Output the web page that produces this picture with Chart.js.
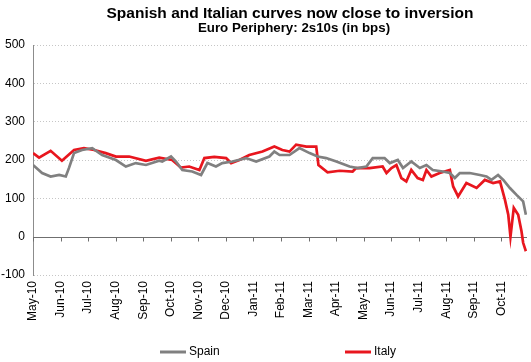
<!DOCTYPE html>
<html>
<head>
<meta charset="utf-8">
<script src="https://cdn.jsdelivr.net/npm/chart.js@4/dist/chart.umd.min.js"></script>
<style>
html,body{margin:0;padding:0;background:#fff;}
#wrap{width:531px;height:362px;position:relative;}
</style>
</head>
<body>
<div id="wrap"><canvas id="c" width="531" height="362"></canvas></div>
<script>
const titleText = 'Spanish and Italian curves now close to inversion';
const subtitleText = 'Euro Periphery: 2s10s (in bps)';
const monthLabels = ['May-10','Jun-10','Jul-10','Aug-10','Sep-10','Oct-10','Nov-10','Dec-10','Jan-11','Feb-11','Mar-11','Apr-11','May-11','Jun-11','Jul-11','Aug-11','Sep-11','Oct-11'];
const yTicks = [-100, 0, 100, 200, 300, 400, 500];

// x positions are in months since start of May-10
const spainX = [0.00,0.33,0.64,0.95,1.19,1.31,1.49,1.78,2.15,2.51,3.01,3.37,3.73,4.10,4.58,4.69,5.01,5.19,5.42,5.78,6.10,6.33,6.64,6.87,7.24,7.73,8.10,8.58,8.76,8.95,9.31,9.67,10.04,10.33,10.64,11.01,11.49,11.78,12.10,12.33,12.76,12.95,13.24,13.43,13.73,14.04,14.28,14.51,14.87,15.13,15.31,15.49,15.85,16.22,16.46,16.64,16.88,17.07,17.31,17.55,17.79,17.89];
const spainY = [187,166,157,161,157,180,218,226,231,213,200,183,192,187,198,196,209,196,174,170,161,192,183,192,196,205,196,209,222,213,213,231,218,209,205,196,183,179,183,205,205,192,200,179,196,179,187,174,170,166,153,166,166,161,157,148,161,148,127,109,92,57];

const italyX = [0.00,0.22,0.64,1.05,1.49,1.85,2.22,2.64,3.01,3.49,4.10,4.58,5.05,5.37,5.67,6.04,6.22,6.58,7.01,7.19,7.49,7.85,8.33,8.76,9.05,9.31,9.55,9.92,10.28,10.36,10.69,11.13,11.60,11.73,12.22,12.69,12.83,13.01,13.19,13.37,13.55,13.73,13.96,14.15,14.28,14.46,14.76,15.13,15.25,15.43,15.73,16.10,16.40,16.70,16.95,17.13,17.25,17.33,17.45,17.61,17.73,17.79,17.89];
const italyY = [218,206,224,198,226,231,226,218,209,209,198,206,200,180,183,174,205,208,205,192,200,213,222,235,226,222,240,235,235,187,168,172,170,179,179,183,166,179,187,153,144,174,153,148,174,157,166,174,131,105,140,127,148,140,144,96,57,0,75,57,14,-16,-38];

const toPts = (xs, ys) => xs.map((x, i) => ({x: x, y: ys[i]}));

const FONT = 'Arial, "Liberation Sans", sans-serif';

const decor = {
  id: 'decor',
  beforeDatasetsDraw(chart) {
    const {ctx, chartArea, scales} = chart;
    const x = scales.x, y = scales.y;
    const y0 = Math.round(y.getPixelForValue(0)) + 0.5;
    ctx.save();
    ctx.strokeStyle = '#6f6f6f';
    ctx.lineWidth = 1;
    ctx.beginPath();
    ctx.moveTo(chartArea.left, y0);
    ctx.lineTo(chartArea.right, y0);
    for (let i = 0; i < monthLabels.length; i++) {
      const px = Math.round(x.getPixelForValue(i)) + 0.5;
      ctx.moveTo(px, y0);
      ctx.lineTo(px, y0 + 4);
    }
    ctx.stroke();
    ctx.restore();
  },
  afterDraw(chart) {
    const {ctx} = chart;
    ctx.save();
    ctx.fillStyle = '#000';
    ctx.textAlign = 'center';
    ctx.textBaseline = 'alphabetic';
    ctx.font = 'bold 15.5px ' + FONT;
    ctx.fillText(titleText, 290, 18);
    ctx.font = 'bold 13.3px ' + FONT;
    ctx.fillText(subtitleText, 294, 32);
    // legend
    const items = [
      {label: chart.data.datasets[0].label, color: chart.data.datasets[0].borderColor, x: 160},
      {label: chart.data.datasets[1].label, color: chart.data.datasets[1].borderColor, x: 345}
    ];
    ctx.font = '12px ' + FONT;
    ctx.textAlign = 'left';
    ctx.textBaseline = 'middle';
    items.forEach(it => {
      ctx.strokeStyle = it.color;
      ctx.lineWidth = 3;
      ctx.beginPath();
      ctx.moveTo(it.x, 352);
      ctx.lineTo(it.x + 26, 352);
      ctx.stroke();
      ctx.fillStyle = '#000';
      ctx.fillText(it.label, it.x + 29, 352);
    });
    ctx.restore();
  }
};

new Chart(document.getElementById('c'), {
  type: 'line',
  data: {
    datasets: [
      {label: 'Spain', data: toPts(spainX, spainY), borderColor: '#808080', borderWidth: 2.7, pointRadius: 0, tension: 0, fill: false},
      {label: 'Italy', data: toPts(italyX, italyY), borderColor: '#e8161e', borderWidth: 2.7, pointRadius: 0, tension: 0, fill: false}
    ]
  },
  options: {
    responsive: false,
    animation: false,
    layout: {padding: {top: 45, right: 4, left: 0, bottom: 0}},
    plugins: {legend: {display: false}, title: {display: false}, tooltip: {enabled: false}},
    scales: {
      x: {
        type: 'linear',
        min: 0,
        max: 17.93,
        afterFit(scale) { scale.height = 87; },
        afterBuildTicks(scale) { scale.ticks = monthLabels.map((m, i) => ({value: i})); },
        ticks: {
          autoSkip: false,
          maxRotation: 90,
          minRotation: 90,
          padding: 6,
          color: '#000',
          font: {size: 12, family: FONT},
          callback: (v) => monthLabels[v]
        },
        grid: {display: false, drawTicks: false},
        border: {display: false}
      },
      y: {
        min: -100,
        max: 500,
        afterFit(scale) { scale.width = 33; },
        afterBuildTicks(scale) { scale.ticks = yTicks.map(v => ({value: v})); },
        ticks: {
          padding: 8,
          color: '#000',
          font: {size: 12, family: FONT},
          callback: (v) => String(v)
        },
        grid: {
          drawTicks: false,
          color: (c) => (c.tick && c.tick.value === 0) ? 'rgba(0,0,0,0)' : '#c6c6c6',
          lineWidth: 1
        },
        border: {display: true, color: '#8c8c8c', width: 1, dash: [1, 2]}
      }
    }
  },
  plugins: [decor]
});
</script>
</body>
</html>
